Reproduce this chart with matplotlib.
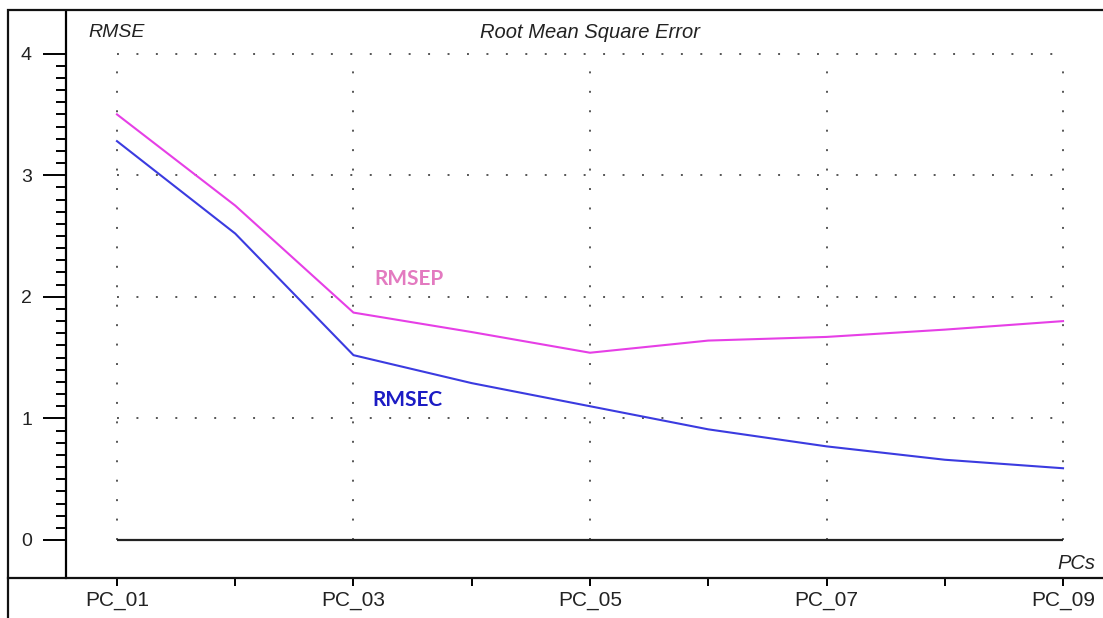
import matplotlib
matplotlib.use("Agg")
import matplotlib.pyplot as plt
from matplotlib.lines import Line2D
from matplotlib.patches import Rectangle
from matplotlib.ticker import FixedLocator

# number of principal components (PC_01 .. PC_09)
pcs = [1, 2, 3, 4, 5, 6, 7, 8, 9]
rmsep = [3.50, 2.75, 1.87, 1.71, 1.54, 1.64, 1.67, 1.73, 1.80]
rmsec = [3.28, 2.52, 1.52, 1.29, 1.10, 0.91, 0.77, 0.66, 0.59]

major_x = [1, 3, 5, 7, 9]
minor_x = [2, 4, 6, 8]
x_labels = ["PC_01", "PC_03", "PC_05", "PC_07", "PC_09"]
major_y = [0, 1, 2, 3, 4]
minor_y = [i / 10 for i in range(1, 40) if i % 10]
grid_y = [1, 2, 3, 4]

W, H = 1103, 618
fig = plt.figure(figsize=(W / 100, H / 100), dpi=100)
fig.patch.set_facecolor("white")

ax = fig.add_axes([66 / W, 40 / H, (W - 66) / W, (578 - 12) / H])
ax.set_xlim(0.569, 9.338)
ax.set_ylim(-0.3125, 4.342)

for side in ["top", "right", "bottom"]:
    ax.spines[side].set_visible(False)
ax.spines["left"].set_linewidth(1.6)

# dotted grid, only inside the data range
dots = dict(color="#555555", linewidth=1.4, linestyle=(0, (1, 9)))
ax.hlines(grid_y, pcs[0], pcs[-1], **dots)
ax.vlines(major_x, 0, 4, **dots)

# zero baseline
ax.hlines([0], pcs[0], pcs[-1], color="#222222", linewidth=1.6)

ax.plot(pcs, rmsep, color="#e63fe6", linewidth=1.5)
ax.plot(pcs, rmsec, color="#3b3be0", linewidth=1.5)

ax.text(3.18, 2.15, "RMSEP", color="#e37ac0", fontsize=15, fontweight="bold",
        family="Lato", va="center", ha="left")
ax.text(3.16, 1.15, "RMSEC", color="#1c1cc4", fontsize=15, fontweight="bold",
        family="Lato", va="center", ha="left")

ital = dict(style="italic", family="Liberation Sans", color="#222222", va="center")
ax.text(0.755, 4.17, "RMSE", ha="left", fontsize=14, **ital)
ax.text(5.0, 4.17, "Root Mean Square Error", ha="center", fontsize=14.5, **ital)
ax.text(9.27, -0.19, "PCs", ha="right", fontsize=14.5, **ital)

# y ticks
ax.yaxis.set_major_locator(FixedLocator(major_y))
ax.yaxis.set_minor_locator(FixedLocator(minor_y))
ax.tick_params(axis="y", which="major", length=16.5, width=1.4, pad=8,
               labelsize=14, labelcolor="#222222")
ax.tick_params(axis="y", which="minor", length=7, width=1.4)
for lab in ax.get_yticklabels():
    lab.set_family("Liberation Sans")

# x ticks
ax.xaxis.set_major_locator(FixedLocator(major_x))
ax.xaxis.set_minor_locator(FixedLocator(minor_x))
ax.set_xticklabels(x_labels, family="Liberation Sans")
ax.tick_params(axis="x", which="both", length=6, width=1.4, pad=3,
               labelsize=15, labelcolor="#222222")

# bottom axis line running across the whole panel
fig.add_artist(Line2D([8 / W, 1.0], [40 / H, 40 / H], color="#111111",
                      linewidth=1.6, transform=fig.transFigure))
# outer frame
fig.add_artist(Rectangle((8 / W, -0.1), 1.2, (H - 10) / H + 0.1, fill=False,
                         edgecolor="#111111", linewidth=1.6,
                         transform=fig.transFigure))

fig.savefig("out.png", dpi=100)
